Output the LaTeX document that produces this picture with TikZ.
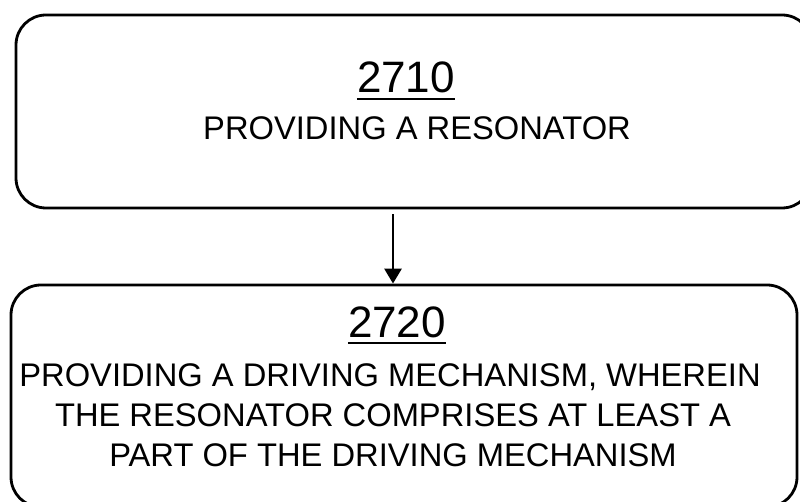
\documentclass[tikz,border=0pt]{standalone}
\usepackage{fontspec}
\setmainfont{Liberation Sans}
\usetikzlibrary{arrows.meta}
\begin{document}
\begin{tikzpicture}[x=1pt,y=1pt,
  box/.style={draw, line width=2.8pt, rounded corners=30pt, inner sep=0pt},
  numtext/.style={anchor=base, inner sep=0pt, font=\fontsize{44}{48}\selectfont},
  bodytext/.style={anchor=base, inner sep=0pt, font=\fontsize{32.7}{40}\selectfont},
  uline/.style={line width=2.8pt},
  flow/.style={line width=2.8pt, -{Triangle[width=17pt,length=15pt]}}]
\useasboundingbox (0,0) rectangle (800,502);
\node[box, minimum width=796pt, minimum height=193pt] (b1) at (414,390.5) {};
\node[box, minimum width=786pt, minimum height=222pt] (b2) at (404,106) {};
% top box text
\node[numtext] (n1) at (406,409) {2710};
\draw[uline] ([yshift=-6pt]n1.base west) -- ([yshift=-6pt]n1.base east);
\node[bodytext] (t1) at (417,362) {PROVIDING A RESONATOR};
% bottom box text
\node[numtext] (n2) at (397,164) {2720};
\draw[uline] ([yshift=-5pt]n2.base west) -- ([yshift=-5pt]n2.base east);
\node[bodytext] (t2a) at (390,115) {PROVIDING A DRIVING MECHANISM, WHEREIN};
\node[bodytext] (t2b) at (393,75) {THE RESONATOR COMPRISES AT LEAST A};
\node[bodytext] (t2c) at (393,35) {PART OF THE DRIVING MECHANISM};
% connector
\coordinate (ax) at (393,0);
\draw[flow, shorten <=5pt] (b1.south -| ax) -- (b2.north -| ax);
\end{tikzpicture}
\end{document}
